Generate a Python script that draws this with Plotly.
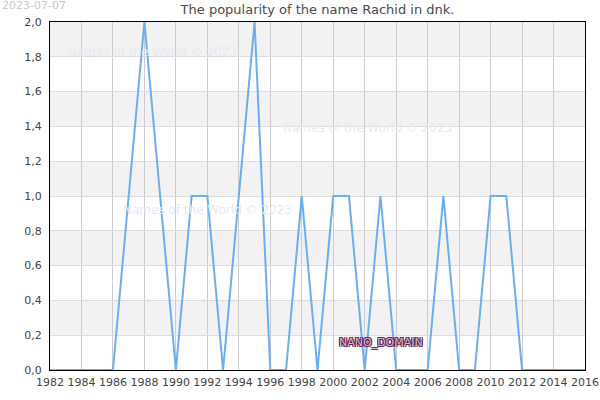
import plotly.graph_objects as go

years = list(range(1982, 2017))
counts = [0, 0, 0, 0, 0, 1, 2, 1, 0, 1, 1, 0, 1, 2, 0, 0, 1, 0, 1, 1,
          0, 1, 0, 0, 0, 1, 0, 0, 1, 1, 0, 0, 0, 0, 0]
title_text = "The popularity of the name Rachid in dnk."
date_text = "2023-07-07"
watermark = "Names of the World © 2023"
y_ticks = [0.0, 0.2, 0.4, 0.6, 0.8, 1.0, 1.2, 1.4, 1.6, 1.8, 2.0]
x_ticks = list(range(1982, 2017, 2))

fig = go.Figure()
fig.add_trace(go.Scatter(x=years, y=counts, mode="lines",
                         line=dict(color="#6aaef2", width=2), hoverinfo="skip"))

shapes = []
for i in range(len(y_ticks) - 1):
    if i % 2 == 1:
        shapes.append(dict(type="rect", xref="paper", yref="y", x0=0, x1=1,
                           y0=y_ticks[i], y1=y_ticks[i + 1],
                           fillcolor="#f2f2f2", line=dict(width=0), layer="below"))

def px2x(px):
    return 1982 + (px - 50) / (585 - 50) * 34

wm_font = dict(size=12, color="#e8e8f6")
outline = "#5c1a52"
ann = [
    dict(text=date_text, x=0, y=1, xref="paper", yref="paper", xanchor="left", yanchor="top",
         xshift=-50, yshift=25, showarrow=False, font=dict(size=11, color="#c8c8c8")),
    dict(text=watermark, x=px2x(152), y=1.83, xref="x", yref="y", showarrow=False, font=wm_font),
    dict(text=watermark, x=px2x(367), y=1.39, xref="x", yref="y", showarrow=False, font=wm_font),
    dict(text=watermark, x=px2x(207), y=0.92, xref="x", yref="y", showarrow=False, font=wm_font),
    dict(text="NANO_DOMAIN", x=px2x(381), y=0.158, xref="x", yref="y", showarrow=False,
         font=dict(size=11, color="#d8b0d0",
                   shadow=f"-1px -1px 0 {outline}, 1px -1px 0 {outline}, -1px 1px 0 {outline}, 1px 1px 0 {outline}")),
]

fig.update_layout(
    width=600, height=400,
    margin=dict(l=50, r=15, t=22, b=30, autoexpand=False),
    paper_bgcolor="white", plot_bgcolor="white",
    font=dict(family="DejaVu Sans", size=11, color="#444"),
    showlegend=False,
    shapes=shapes,
    title=dict(text=title_text, x=0.5, xref="paper", xanchor="center",
               y=1 - 5 / 400, yref="container", yanchor="top",
               font=dict(size=13, color="#4a4a4a")),
    xaxis=dict(range=[1982, 2016], tickvals=x_ticks, ticktext=[str(t) for t in x_ticks],
               showgrid=True, gridcolor="#cccccc", gridwidth=1, automargin=False,
               showline=True, linecolor="black", linewidth=1, mirror=True, ticklabelstandoff=2,
               ticks="", zeroline=False, tickfont=dict(size=11, color="#444"), layer="above traces"),
    yaxis=dict(range=[0, 2.0], tickvals=y_ticks, ticktext=[f"{v:.1f}".replace(".", ",") for v in y_ticks],
               showgrid=True, gridcolor="#dddddd", gridwidth=1, automargin=False,
               showline=True, linecolor="black", linewidth=1, mirror=True, ticklabelstandoff=5,
               ticks="", zeroline=False, tickfont=dict(size=11, color="#444")),
    annotations=ann,
)
fig.write_html("out.html")
